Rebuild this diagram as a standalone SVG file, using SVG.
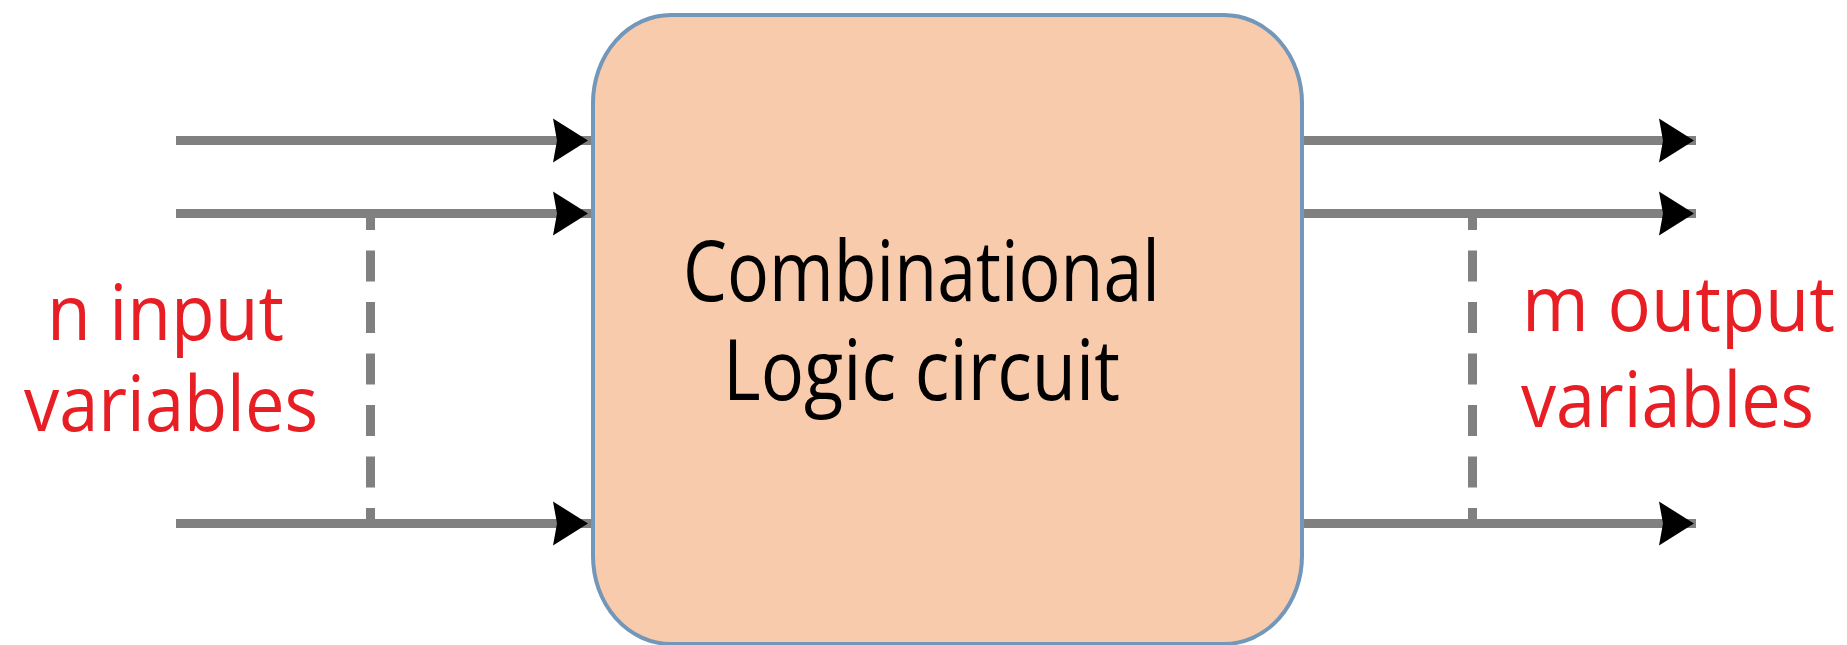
<svg xmlns="http://www.w3.org/2000/svg" width="1847" height="645" viewBox="0 0 1847 645">
<style>
.wire{stroke:#808080;stroke-width:9;fill:none}
.dash{stroke:#808080;stroke-width:9;fill:none;stroke-dasharray:31 20.5;stroke-dashoffset:14.5}
.head{fill:#000}
.lbl{font-family:"Open Sans","Noto Sans",sans-serif;font-size:76px;fill:#E81E25}
.main{font-family:"Open Sans","Noto Sans",sans-serif;font-size:84px;fill:#000}
</style>
<defs>
<path id="ah" d="M-35,-22 L0,0 L-35,22 L-31,0 Z"/>
</defs>
<rect width="1847" height="645" fill="#fff"/>
<g id="connectors">
<line class="wire" x1="176" y1="140.5" x2="593" y2="140.5"/>
<line class="wire" x1="176" y1="213.5" x2="593" y2="213.5"/>
<line class="wire" x1="176" y1="523.5" x2="593" y2="523.5"/>
<use href="#ah" class="head" x="588" y="140.5"/>
<use href="#ah" class="head" x="588" y="213.5"/>
<use href="#ah" class="head" x="588" y="523.5"/>
<line class="wire" x1="1302" y1="140.5" x2="1696" y2="140.5"/>
<line class="wire" x1="1302" y1="213.5" x2="1696" y2="213.5"/>
<line class="wire" x1="1302" y1="523.5" x2="1696" y2="523.5"/>
<use href="#ah" class="head" x="1694" y="140.5"/>
<use href="#ah" class="head" x="1694" y="213.5"/>
<use href="#ah" class="head" x="1694" y="523.5"/>
<line class="dash" x1="370.5" y1="213.5" x2="370.5" y2="523.5"/>
<line class="dash" x1="1472.5" y1="213.5" x2="1472.5" y2="523.5"/>
</g>
<g id="circuit">
<rect x="593" y="15" width="709" height="629" rx="78" ry="88" fill="#F8CBAD" stroke="#7397B9" stroke-width="4"/>
<text class="main" x="683" y="301" textLength="477" lengthAdjust="spacingAndGlyphs">Combinational</text>
<text class="main" x="723" y="400" textLength="397" lengthAdjust="spacingAndGlyphs">Logic circuit</text>
</g>
<g id="inputs-label">
<text class="lbl" x="47" y="340" textLength="237" lengthAdjust="spacingAndGlyphs">n input</text>
<text class="lbl" x="24" y="431" textLength="294" lengthAdjust="spacingAndGlyphs">variables</text>
</g>
<g id="outputs-label">
<text class="lbl" x="1522" y="331" textLength="313" lengthAdjust="spacingAndGlyphs">m output</text>
<text class="lbl" x="1521" y="427" textLength="293" lengthAdjust="spacingAndGlyphs">variables</text>
</g>
</svg>
